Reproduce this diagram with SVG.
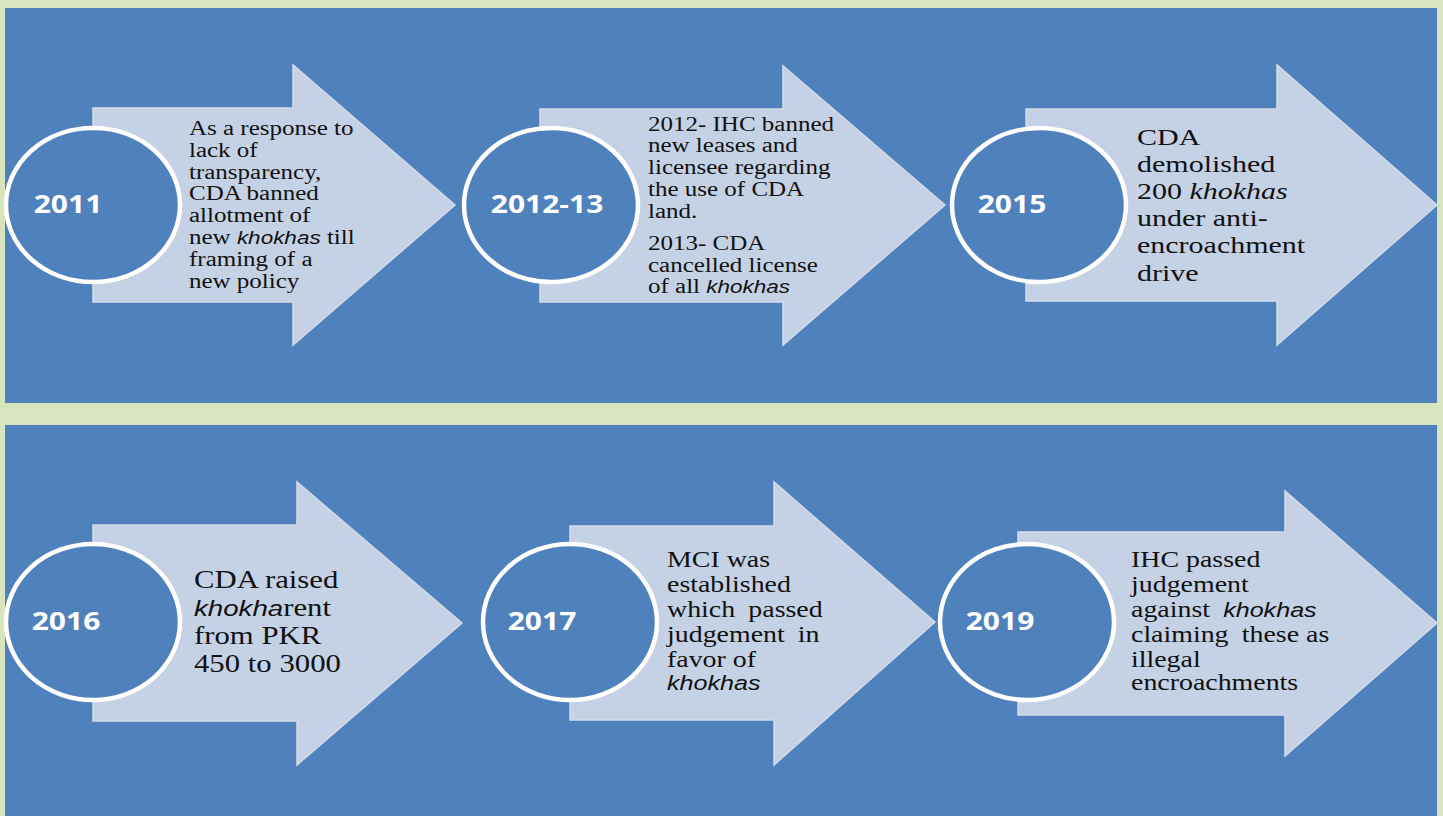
<svg xmlns="http://www.w3.org/2000/svg" width="1443" height="816" viewBox="0 0 1443 816">
<style>
.panel{fill:#4f81bd}
.arrow{fill:#c5d1e4;stroke:#d2dbea;stroke-width:1.5}
.circ{fill:#4f81bd;stroke:#ffffff;stroke-width:4.5}
.year{font-family:"Open Sans","Liberation Sans",sans-serif;font-weight:bold;font-size:25px;fill:#ffffff;text-anchor:middle}
.body{font-family:"Liberation Serif","Times New Roman",serif;fill:#111111}
.it{font-family:"Liberation Sans",Arial,sans-serif;font-style:italic;font-size:0.9em}
.its{font-style:italic}
</style>
<rect x="0" y="0" width="1443" height="816" fill="#d7e4bd"/>
<rect class="panel" x="5" y="8" width="1432" height="395"/>
<rect class="panel" x="5" y="425" width="1432" height="391"/>
<g id="connectors"></g>

<g id="node-2011">
<path class="arrow" d="M93,108 H293 V65 L455,205 L293,345 V302 H93 Z"/>
<ellipse class="circ" cx="93" cy="205" rx="87" ry="77"/>
<text class="year" transform="matrix(1.2 0 0 1 68 213)">2011</text>
<text class="body" font-size="20" transform="matrix(1.25 0 0 1 189 0)">
<tspan x="0" y="135">As a response to</tspan>
<tspan x="0" y="157">lack of</tspan>
<tspan x="0" y="179">transparency,</tspan>
<tspan x="0" y="200">CDA banned</tspan>
<tspan x="0" y="222">allotment of</tspan>
<tspan x="0" y="244">new <tspan class="it">khokhas</tspan> till</tspan>
<tspan x="0" y="266">framing of a</tspan>
<tspan x="0" y="288">new policy</tspan>
</text>
</g>

<g id="node-2012-13">
<path class="arrow" d="M540,109 H783 V66 L945,205 L783,345 V302 H540 Z"/>
<ellipse class="circ" cx="551" cy="205" rx="87" ry="77"/>
<text class="year" transform="matrix(1.2 0 0 1 547 213)">2012-13</text>
<text class="body" font-size="20" transform="matrix(1.25 0 0 1 648 0)">
<tspan x="0" y="131">2012- IHC banned</tspan>
<tspan x="0" y="152">new leases and</tspan>
<tspan x="0" y="174">licensee regarding</tspan>
<tspan x="0" y="196">the use of CDA</tspan>
<tspan x="0" y="218">land.</tspan>
<tspan x="0" y="250">2013- CDA</tspan>
<tspan x="0" y="272">cancelled license</tspan>
<tspan x="0" y="293">of all <tspan class="it">khokhas</tspan></tspan>
</text>
</g>

<g id="node-2015">
<path class="arrow" d="M1026,109 H1277 V65 L1437,205 L1277,345 V301 H1026 Z"/>
<ellipse class="circ" cx="1039" cy="205" rx="87" ry="77"/>
<text class="year" transform="matrix(1.2 0 0 1 1012 213)">2015</text>
<text class="body" font-size="24" transform="matrix(1.25 0 0 1 1137 0)">
<tspan x="0" y="145">CDA</tspan>
<tspan x="0" y="172">demolished</tspan>
<tspan x="0" y="199">200 <tspan class="its">khokhas</tspan></tspan>
<tspan x="0" y="226">under anti-</tspan>
<tspan x="0" y="253">encroachment</tspan>
<tspan x="0" y="281">drive</tspan>
</text>
</g>

<g id="node-2016">
<path class="arrow" d="M93,525 H297 V482 L462,623 L297,765 V721 H93 Z"/>
<ellipse class="circ" cx="93" cy="622" rx="87" ry="78"/>
<text class="year" transform="matrix(1.2 0 0 1 66 630)">2016</text>
<text class="body" font-size="25" transform="matrix(1.23 0 0 1 194 0)">
<tspan x="0" y="588">CDA raised</tspan>
<tspan x="0" y="616"><tspan class="it">khokha</tspan>rent</tspan>
<tspan x="0" y="644">from PKR</tspan>
<tspan x="0" y="672">450 to 3000</tspan>
</text>
</g>

<g id="node-2017">
<path class="arrow" d="M570,526 H774 V482 L935,622 L774,765 V720 H570 Z"/>
<ellipse class="circ" cx="570" cy="622" rx="87" ry="78"/>
<text class="year" transform="matrix(1.2 0 0 1 542 630)">2017</text>
<text class="body" font-size="22.5" transform="matrix(1.24 0 0 1 667 0)">
<tspan x="0" y="567">MCI was</tspan>
<tspan x="0" y="592">established</tspan>
<tspan x="0" y="617" word-spacing="5">which passed</tspan>
<tspan x="0" y="642" word-spacing="5">judgement in</tspan>
<tspan x="0" y="667">favor of</tspan>
<tspan x="0" y="690" class="it">khokhas</tspan>
</text>
</g>

<g id="node-2019">
<path class="arrow" d="M1018,532 H1285 V491 L1437,623 L1285,756 V715 H1018 Z"/>
<ellipse class="circ" cx="1027" cy="622" rx="87" ry="78"/>
<text class="year" transform="matrix(1.2 0 0 1 1000 630)">2019</text>
<text class="body" font-size="22.5" transform="matrix(1.24 0 0 1 1131 0)">
<tspan x="0" y="567">IHC passed</tspan>
<tspan x="0" y="592">judgement</tspan>
<tspan x="0" y="617" word-spacing="5">against <tspan class="it">khokhas</tspan></tspan>
<tspan x="0" y="642"><tspan word-spacing="5">claiming these</tspan> as</tspan>
<tspan x="0" y="667">illegal</tspan>
<tspan x="0" y="690">encroachments</tspan>
</text>
</g>
</svg>
